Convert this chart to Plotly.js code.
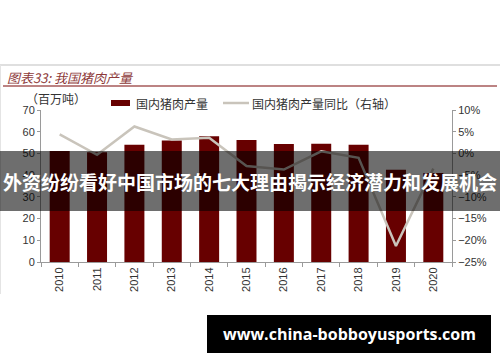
<!DOCTYPE html>
<html>
<head>
<meta charset="utf-8">
<script src="https://cdn.plot.ly/plotly-3.0.1.min.js"></script>
<style>
html,body{margin:0;padding:0;background:#fff;}
#chart{width:500px;height:362px;}
</style>
</head>
<body>
<div id="chart"></div>
<script>
// ---- data ----
const years = ["2010","2011","2012","2013","2014","2015","2016","2017","2018","2019","2020"];
const porkOutput = [51.1, 50.6, 54.0, 56.0, 57.9, 56.2, 54.3, 54.5, 54.0, 42.5, 41.0]; // 百万吨
const porkYoY = [4.4, -0.3, 6.2, 3.2, 3.6, -2.9, -3.7, 0.5, -1.0, -21.3, -3.5];        // %
const barName = "国内猪肉产量";
const lineName = "国内猪肉产量同比（右轴）";
const chartTitle = "图表33: 我国猪肉产量";
const unitLabel = "（百万吨）";
const bannerText = "外资纷纷看好中国市场的七大理由揭示经济潜力和发展机会";
const siteText = "www.china-bobboyusports.com";

// ---- geometry helpers (pixel -> paper) ----
const W = 500, H = 362, ML = 41, MR = 48, MT = 110, MB = 100;
const PW = W - ML - MR, PH = H - MT - MB;
const px = x => (x - ML) / PW;
const py = y => (H - MB - y) / PH;

const barColor = "#670000";
const lineColor = "#c9c4bb";
const axisColor = "#9a9a9a";
const tickFont = {family: "Liberation Sans, Arial, sans-serif", size: 11, color: "#333"};
const cjk = "Noto Sans CJK SC, sans-serif";

const traces = [
  {type: "bar", x: years, y: porkOutput, name: barName, marker: {color: barColor},
   yaxis: "y", showlegend: false, hoverinfo: "none"},
  {type: "scatter", mode: "lines", x: years, y: porkYoY, name: lineName,
   line: {color: lineColor, width: 2.5}, yaxis: "y2", showlegend: false, hoverinfo: "none"}
];

const layout = {
  width: W, height: H,
  margin: {l: ML, r: MR, t: MT, b: MB, pad: 0},
  paper_bgcolor: "#fff", plot_bgcolor: "rgba(0,0,0,0)",
  bargap: 0.465,
  showlegend: false,
  xaxis: {
    type: "category", showgrid: false, zeroline: false,
    showline: true, linecolor: axisColor, linewidth: 1,
    ticks: "outside", ticklen: 4, tickcolor: axisColor, tickson: "boundaries",
    tickangle: -90, tickfont: tickFont, fixedrange: true
  },
  yaxis: {
    range: [0, 70], dtick: 10, showgrid: false, zeroline: false,
    showline: true, linecolor: axisColor, linewidth: 1,
    ticks: "outside", ticklen: 3, tickcolor: axisColor, tickfont: tickFont
  },
  yaxis2: {
    overlaying: "y", side: "right", range: [-25, 10], dtick: 5, ticksuffix: "%",
    showgrid: false, zeroline: false, showline: true, linecolor: axisColor, linewidth: 1,
    ticks: "outside", ticklen: 3, tickcolor: axisColor, tickfont: tickFont
  },
  shapes: [
    {type: "line", xref: "paper", yref: "paper", x0: px(0), x1: px(500), y0: py(65), y1: py(65),
     line: {color: "#d4d4d4", width: 1.5}, layer: "below"},
    {type: "line", xref: "paper", yref: "paper", x0: px(0.5), x1: px(0.5), y0: py(65), y1: py(294),
     line: {color: "#e4e4e4", width: 1}, layer: "below"},
    {type: "line", xref: "paper", yref: "paper", x0: px(3), x1: px(497), y0: py(86), y1: py(86),
     line: {color: "#a65a5a", width: 1.5}, layer: "below"},
    {type: "rect", xref: "paper", yref: "paper", x0: px(111), x1: px(130), y0: py(106), y1: py(100),
     fillcolor: barColor, line: {width: 0}},
    {type: "line", xref: "paper", yref: "paper", x0: px(223), x1: px(249), y0: py(103), y1: py(103),
     line: {color: lineColor, width: 2.5}},
    {type: "rect", xref: "paper", yref: "paper", x0: px(0), x1: px(500), y0: py(211), y1: py(151),
     fillcolor: "rgba(0,0,0,0.57)", line: {width: 0}, layer: "above"},
    {type: "rect", xref: "paper", yref: "paper", x0: px(207), x1: px(491), y0: py(353), y1: py(315),
     fillcolor: "#000", line: {width: 0}, layer: "above"}
  ],
  annotations: [
    {xref: "paper", yref: "paper", x: px(5), y: py(77), xanchor: "left", yanchor: "middle",
     text: "<i>" + chartTitle + "</i>", showarrow: false,
     font: {family: cjk, size: 13, color: "#8e3a3a"}},
    {xref: "paper", yref: "paper", x: px(24), y: py(99), xanchor: "left", yanchor: "middle",
     text: unitLabel, showarrow: false, font: {family: cjk, size: 12, color: "#333"}},
    {xref: "paper", yref: "paper", x: px(134), y: py(103), xanchor: "left", yanchor: "middle",
     text: barName, showarrow: false, font: {family: cjk, size: 12, color: "#333"}},
    {xref: "paper", yref: "paper", x: px(250), y: py(103), xanchor: "left", yanchor: "middle",
     text: lineName, showarrow: false, font: {family: cjk, size: 12, color: "#333"}},
    {xref: "paper", yref: "paper", x: px(250), y: py(181), xanchor: "center", yanchor: "middle",
     text: "<b>" + bannerText + "</b>", showarrow: false,
     font: {family: cjk, size: 19, color: "#fff"}},
    {xref: "paper", yref: "paper", x: px(349), y: py(334), xanchor: "center", yanchor: "middle",
     text: "<b>" + siteText + "</b>", showarrow: false,
     font: {family: "Open Sans, DejaVu Sans, sans-serif", size: 16, color: "#fff"}}
  ]
};

Plotly.newPlot("chart", traces, layout, {staticPlot: true, displayModeBar: false});
</script>
</body>
</html>
